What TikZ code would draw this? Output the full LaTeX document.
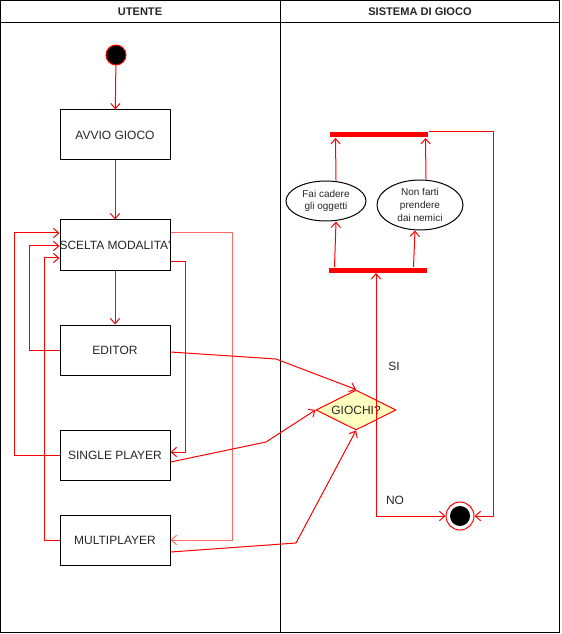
\documentclass[tikz,border=0pt]{standalone}
\usepackage{fontspec}
\setmainfont{Liberation Sans}
\usetikzlibrary{arrows.meta,shapes.geometric,calc}
\tikzset{every picture/.style={line width=0.75pt}}
\definecolor{giallino}{RGB}{255,255,192}
\begin{document}
\begin{tikzpicture}[x=0.75pt,y=0.75pt,yscale=-1,xscale=1,
	flow/.style={draw=red, -{Straight Barb[length=4pt,width=7pt]}},
	actbox/.style={draw=black, minimum width=82.5pt, minimum height=37.5pt, inner sep=0pt, text=black!85, font=\fontsize{9}{11}\selectfont},
	bar/.style={fill=red, minimum width=73.5pt, minimum height=3.75pt, inner sep=0pt},
	taskell/.style={ellipse, draw=black, inner sep=0pt, align=center, text=black!85, font=\fontsize{7.5}{9.5}\selectfont},
	lbl/.style={text=black!85, font=\fontsize{9}{11}\selectfont}]
	\useasboundingbox (0,0) rectangle (561,634);
	
	%Shape: Swimlanes
	\draw (0.5,0.5) rectangle (559.5,632.5);
	\draw (0.5,23) -- (559.5,23);
	\draw (280,0.5) -- (280,632.5);
	% Text Node
	\node[font=\bfseries\fontsize{8.3}{10}\selectfont, text=black!85] (utente) at (140,12) {UTENTE};
	% Text Node
	\node[font=\bfseries\fontsize{8.3}{10}\selectfont, text=black!85] (sistema) at (420,12) {SISTEMA DI GIOCO};
	
	%Shape: Start
	\node[circle, fill=black, draw=red, minimum size=15pt, inner sep=0pt] (start) at (116,55) {};
	%Shape: Rectangles
	\node[actbox] (avvio) at (115,135) {AVVIO GIOCO};
	\node[actbox] (scelta) at (115,245) {\makebox[0pt]{SCELTA MODALITA\textquotesingle}};
	\node[actbox] (editor) at (115,350) {EDITOR};
	\node[actbox] (single) at (115,455) {SINGLE PLAYER};
	\node[actbox] (multi) at (115,540) {MULTIPLAYER};
	
	%Shape: Decision
	\node[diamond, draw=red, fill=giallino, minimum width=60pt, minimum height=30pt, aspect=2, inner sep=0pt, text=black!85, font=\fontsize{9}{11}\selectfont] (giochi) at (356,410) {GIOCHI?};
	\coordinate (uscita) at ($(giochi.center)+(20,0)$);
	
	%Shape: Fork bars
	\node[bar] (bartop) at (379,135) {};
	\node[bar] (barlow) at (378,270) {};
	%Shape: Ellipses
	\node[taskell, minimum width=60pt, minimum height=30pt] (cadere) at (326,201) {Fai cadere\\gli oggetti};
	\node[taskell, minimum width=64.5pt, minimum height=37.5pt] (nemici) at (420,205) {Non farti\\prendere\\dai nemici};
	
	%Shape: End
	\node[circle, draw=red, fill=white, minimum size=21pt, inner sep=0pt] (fine) at (460,516) {};
	\node[circle, fill=black, minimum size=15pt, inner sep=0pt] (finein) at (fine) {};
	
	%Straight Lines
	\draw[flow] (start) -- (avvio);
	\draw[flow] (avvio) -- (scelta);
	\draw[flow] (scelta) -- (editor);
	
	%Back to SCELTA
	\draw[flow] (editor.west) -- ++(-30,0) |- ($(scelta.west)+(0,1)$);
	\draw[flow] (single.west) -- ++(-45,0) |- ($(scelta.west)+(0,-12)$);
	\draw[flow] (multi.west) -- ++(-15,0) |- ($(scelta.west)+(0,13)$);
	
	%From SCELTA
	\draw[flow, draw=red!60] ($(scelta.east)+(0,-12)$) -- ++(62,0) |- (multi.east);
	\draw[flow] ($(scelta.east)+(0,17)$) -- ++(15,0) |- ($(single.east)+(0,-3)$);
	
	%To GIOCHI?
	\draw[flow] ($(editor.east)+(0,2)$) -- (276,359) -- (giochi.north);
	\draw[flow] ($(single.east)+(0,7)$) -- (266,442) -- (giochi.west);
	\draw[flow] ($(multi.east)+(0,12)$) -- (296,543) -- (giochi.south);
	
	%From GIOCHI?
	\draw[flow] (uscita) -- (uscita |- barlow.south);
	\draw[flow] (uscita) |- (fine.west);
	
	%Fork
	\draw[flow] ($(barlow.north west)+(6,0)$) -- ($(cadere.south)+(10,0)$);
	\draw[flow] ($(barlow.north west)+(85,0)$) -- ($(nemici.south)+(-5,0)$);
	\draw[flow] ($(cadere.north)+(10,0)$) -- ($(bartop.south west)+(6,0)$);
	\draw[flow] ($(nemici.north)+(6,0)$) -- ($(bartop.south west)+(96,0)$);
	\draw[flow] (bartop.north east) -- ++(65,0) |- (fine.east);
	
	% Text Node
	\node[lbl] (si) at (394,366) {SI};
	% Text Node
	\node[lbl] (no) at (395,500) {NO};
\end{tikzpicture}
\end{document}
